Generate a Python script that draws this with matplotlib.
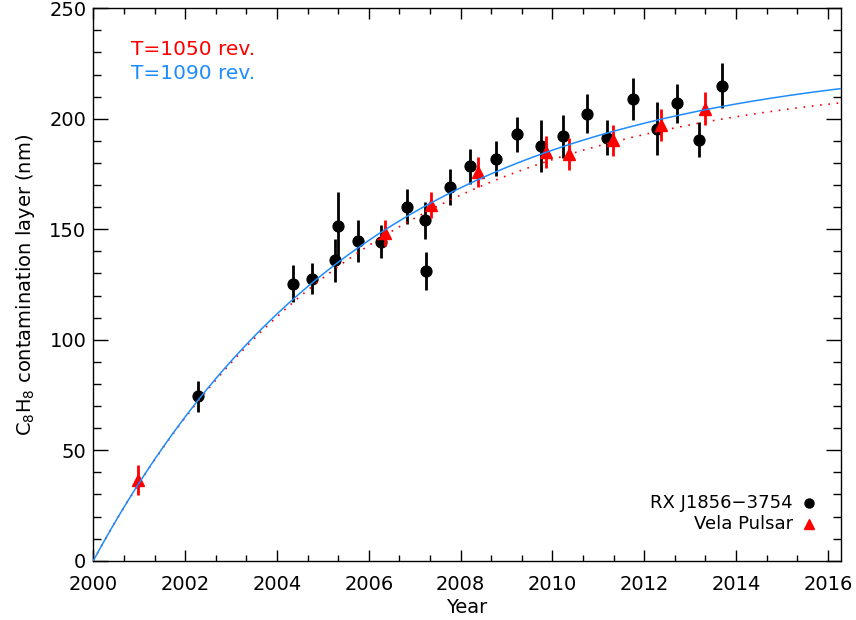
import numpy as np
import matplotlib
matplotlib.use("Agg")
import matplotlib.pyplot as plt
from matplotlib.ticker import FixedLocator

# ---------------- data ----------------
rx_year = [2002.28, 2004.34, 2004.77, 2005.27, 2005.32, 2005.77, 2006.27, 2006.84,
           2007.22, 2007.25, 2007.78, 2008.21, 2008.77, 2009.23, 2009.76, 2010.23,
           2010.76, 2011.20, 2011.76, 2012.28, 2012.72, 2013.20, 2013.70]
rx_val = [74.4, 125.4, 127.7, 136.0, 151.7, 144.7, 144.3, 160.1,
          154.1, 131.1, 169.1, 178.6, 182.0, 193.0, 187.6, 192.0,
          202.2, 191.5, 209.0, 195.6, 207.0, 190.6, 215.0]
rx_err = [7.0, 8.5, 7.0, 9.8, 15.0, 9.7, 7.5, 7.9,
          8.3, 8.7, 8.1, 7.9, 8.1, 8.0, 11.8, 9.6,
          8.8, 8.0, 9.4, 12.2, 8.7, 7.8, 10.3]

vela_year = [2000.98, 2006.36, 2007.36, 2008.37, 2009.86, 2010.36, 2011.32, 2012.37, 2013.33]
vela_val = [36.4, 148.3, 160.9, 175.9, 185.0, 184.2, 190.3, 197.0, 204.6]
vela_err = [6.8, 6.0, 5.9, 6.6, 7.3, 7.3, 7.0, 7.2, 7.5]

# model: thickness = rate * tau * (1 - exp(-(t - t0)/tau)), tau = T revolutions
model_T_rev = [1050, 1090]
model_labels = ["T=1050 rev.", "T=1090 rev."]
model_t0 = 2000.0
model_rate = 38.3          # nm / yr initial deposition rate
days_per_rev = 2.0

xticks = [2000, 2002, 2004, 2006, 2008, 2010, 2012, 2014, 2016]
yticks = [0, 50, 100, 150, 200, 250]

RED = "#ff0000"
BLUE = "#1e8cff"

# ---------------- figure ----------------
plt.rcParams["font.family"] = ["DejaVu Sans"]
fig = plt.figure(figsize=(8.56, 6.2), dpi=100)
ax = fig.add_axes([93.3 / 856, 1 - 560.7 / 620, (840.7 - 93.3) / 856, (560.7 - 8.3) / 620])

xlim = (2000.0, 2016.28)
ax.set_xlim(*xlim)
ax.set_ylim(0, 250)

# data points
ax.errorbar(rx_year, rx_val, yerr=rx_err, fmt="o", color="black", ms=7.8,
            elinewidth=2.0, capsize=0, zorder=3)
ax.errorbar(vela_year, vela_val, yerr=vela_err, fmt="^", color=RED, ms=8,
            mec=RED, elinewidth=2.0, capsize=0, zorder=4)

# model curves
t = np.linspace(xlim[0], xlim[1], 600)
styles = [dict(color=RED, lw=1.2, ls=(0, (1, 4))), dict(color=BLUE, lw=1.1, ls="-")]
for T, st in zip(model_T_rev, styles):
    tau = T * days_per_rev / 365.25
    y = model_rate * tau * (1 - np.exp(-(t - model_t0) / tau))
    ax.plot(t, y, zorder=5, **st)

# ticks
ax.xaxis.set_major_locator(FixedLocator(xticks))
ax.xaxis.set_minor_locator(FixedLocator(np.arange(2000, 2016.3, 2 / 3)))
ax.yaxis.set_major_locator(FixedLocator(yticks))
ax.yaxis.set_minor_locator(FixedLocator(np.arange(0, 251, 10)))
ax.tick_params(axis="both", which="both", direction="in", top=True, right=True,
               width=1.0, colors="black", labelsize=14)
ax.tick_params(axis="x", which="major", length=7.6, pad=10)
ax.tick_params(axis="x", which="minor", length=4.0)
ax.tick_params(axis="y", which="major", length=10.8, pad=5)
ax.tick_params(axis="y", which="minor", length=5.5)
for s in ax.spines.values():
    s.set_linewidth(1.0)

ax.set_xlabel("Year", fontsize=14, labelpad=3)
ax.set_ylabel("C$_8$H$_8$ contamination layer (nm)", fontsize=14, labelpad=9)

# annotations
ax.text(0.05, 0.9263, model_labels[0], color=RED, fontsize=14.5, va="center", ha="left",
        transform=ax.transAxes)
ax.text(0.05, 0.8823, model_labels[1], color=BLUE, fontsize=14.5, va="center", ha="left",
        transform=ax.transAxes)

# legend (IDL style)
ax.text(0.936, 0.1039, "RX J1856\u22123754", fontsize=13, ha="right", va="center",
        transform=ax.transAxes)
ax.plot([0.9576], [0.1039], "o", color="black", ms=6.5, transform=ax.transAxes, clip_on=False)
ax.text(0.936, 0.0659, "Vela Pulsar", fontsize=13, ha="right", va="center",
        transform=ax.transAxes)
ax.plot([0.9576], [0.0659], "^", color=RED, ms=7, transform=ax.transAxes, clip_on=False)

fig.savefig("out.png", dpi=100)
